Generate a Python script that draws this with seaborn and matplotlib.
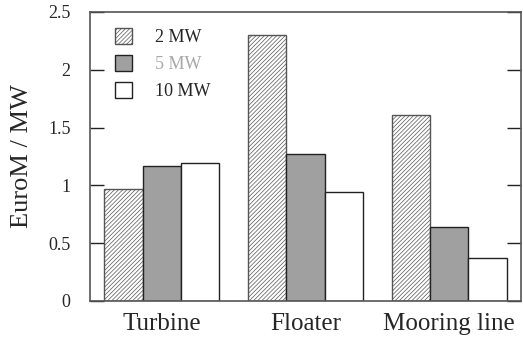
import pandas as pd
import matplotlib
matplotlib.use('Agg')
import matplotlib.pyplot as plt
import seaborn as sns
from matplotlib.patches import Patch

# veriler
categories = ["Turbine", "Floater", "Mooring line"]
sizes = ["2 MW", "5 MW", "10 MW"]
cost_2mw = [0.97, 2.30, 1.61]
cost_5mw = [1.17, 1.27, 0.64]
cost_10mw = [1.19, 0.94, 0.37]

sns.set_style("white")
plt.rcParams['font.family'] = ['Liberation Serif', 'DejaVu Serif']
plt.rcParams['hatch.linewidth'] = 0.5

rows = []
for i, cat in enumerate(categories):
    rows.append({"part": cat, "size": "2 MW", "cost": cost_2mw[i]})
    rows.append({"part": cat, "size": "5 MW", "cost": cost_5mw[i]})
    rows.append({"part": cat, "size": "10 MW", "cost": cost_10mw[i]})
df = pd.DataFrame(rows)

fig = plt.figure(figsize=(5.23, 3.4), dpi=100)
ax = fig.add_axes([0.172, 0.115, 0.824, 0.85])

colors = {"2 MW": "white", "5 MW": "#a0a0a0", "10 MW": "white"}
sns.barplot(data=df, x="part", y="cost", hue="size", hue_order=sizes, order=categories,
            palette=colors, width=0.8, edgecolor="#222222", linewidth=1.0,
            saturation=1, legend=False, ax=ax)

# 2 MW barlarina tarama
for bar in ax.containers[0]:
    bar.set_hatch("////////")
    bar.set_edgecolor("#555555")

ax.set_xlim(-0.5, 2.5)
ax.set_ylim(0, 2.5)
ax.set_yticks([0, 0.5, 1, 1.5, 2, 2.5])
ax.set_yticklabels(["0", "0.5", "1", "1.5", "2", "2.5"], fontsize=13)
ax.tick_params(axis='y', direction='in', length=10, width=1, right=True, left=True, pad=14,
               color="#222222")
ax.tick_params(axis='x', length=0, labelsize=18, pad=9)
ax.set_xlabel("")
ax.set_ylabel("EuroM / MW", fontsize=19, labelpad=11)
for s in ax.spines.values():
    s.set_color("#555555")
    s.set_linewidth(1.2)

handles = [Patch(facecolor="white", edgecolor="#555555", hatch="////////", linewidth=1.0),
           Patch(facecolor="#a0a0a0", edgecolor="#222222", linewidth=1.0),
           Patch(facecolor="white", edgecolor="#222222", linewidth=1.0)]
leg = ax.legend(handles, sizes, loc="upper left", frameon=False, fontsize=13,
                handlelength=0.95, handleheight=0.95, labelspacing=0.5, handletextpad=1.3,
                bbox_to_anchor=(0.02, 1.0))
leg.get_texts()[1].set_color("#a8a8a8")

plt.savefig("out.png", dpi=100)
